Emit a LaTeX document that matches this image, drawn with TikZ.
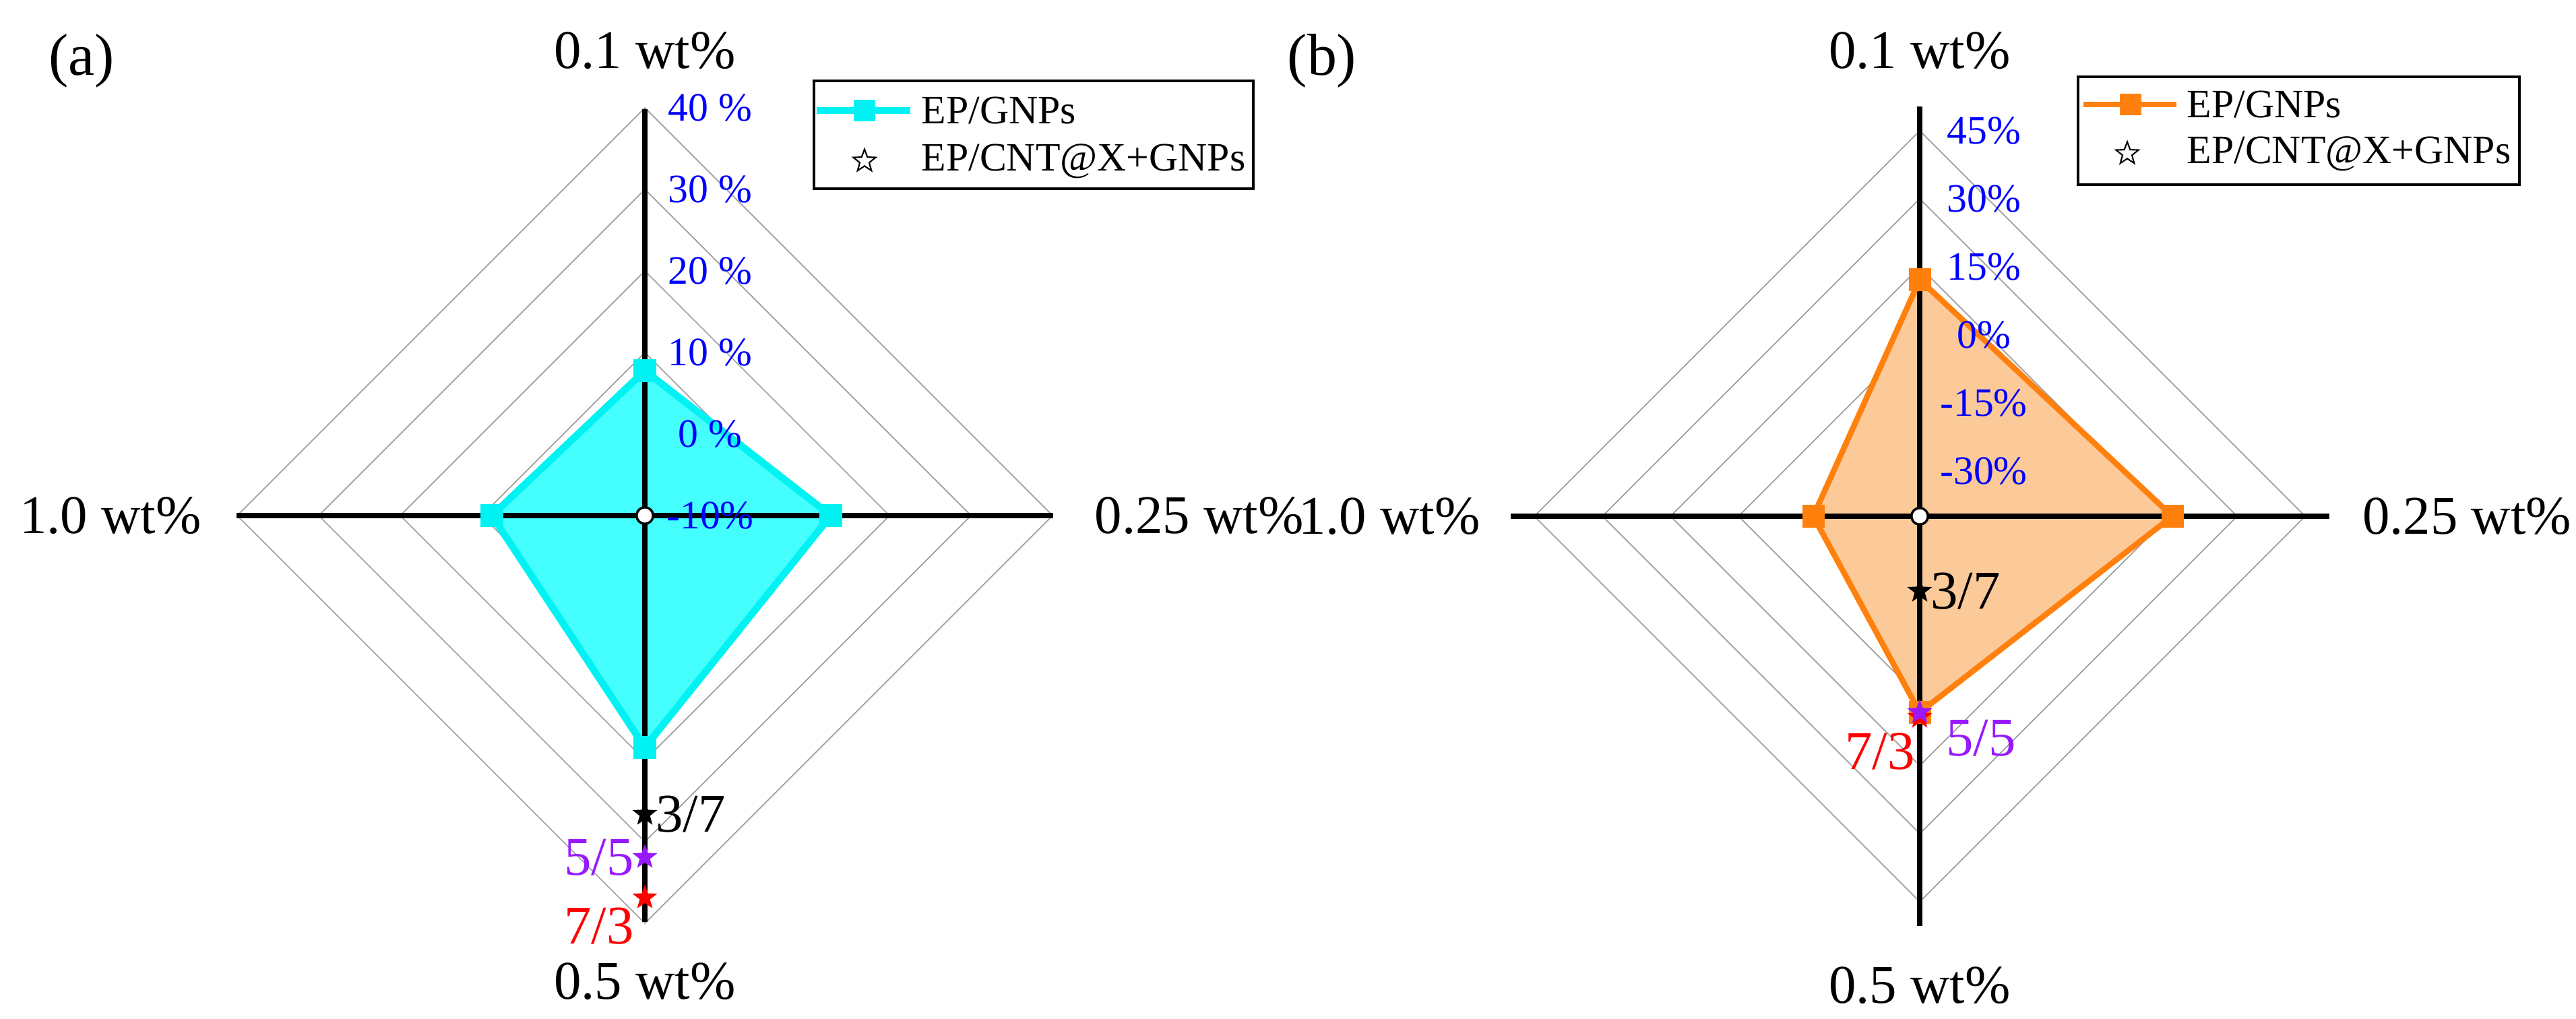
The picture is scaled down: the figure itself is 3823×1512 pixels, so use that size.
\documentclass[tikz,border=0pt]{standalone}
\usepackage{fontspec}
\setmainfont{Liberation Serif}
\usetikzlibrary{shapes.geometric,positioning}
\definecolor{cyanline}{rgb}{0.0,0.95,0.95}
\definecolor{cyanfill}{rgb}{0.27,1.0,1.0}
\definecolor{orangeline}{rgb}{1.0,0.5,0.05}
\definecolor{orangefill}{rgb}{0.99,0.79,0.6}
\definecolor{violet5}{rgb}{0.6,0.1,1.0}
\tikzset{
  ring/.style={draw=gray!75, line width=0.5pt},
  axis/.style={line width=2.3pt},
  tick/.style={text=blue, font=\fontsize{17}{17}\selectfont, inner sep=0},
  wt/.style={font=\fontsize{23}{23}\selectfont, inner sep=0},
  ratio/.style={font=\fontsize{23}{23}\selectfont, inner sep=1pt},
  sq/.style={rectangle, minimum size=9pt, inner sep=0},
  starmark/.style={star, star points=5, star point ratio=2.4, minimum size=11pt, inner sep=0},
  origin/.style={circle, draw, fill=white, line width=1pt, minimum size=7pt, inner sep=0},
  legtext/.style={font=\fontsize{17}{17}\selectfont, anchor=west, inner sep=0},
}
\begin{document}
\begin{tikzpicture}[x=0.01cm, y=-0.01cm]
\useasboundingbox (0,0) rectangle (3823,1512);

% ---- panel (a)
\node[wt, font=\fontsize{25}{25}\selectfont] (tagA) at (121,90) {(a)};
\foreach \k in {1,...,5}
  \draw[ring] (957,{765-121*\k}) -- ({957+121*\k},765) -- (957,{765+121*\k}) -- ({957-121*\k},765) -- cycle;
\node[sq] (a1) at (957,550) {};
\node[sq] (a2) at (1233,765) {};
\node[sq] (a3) at (957,1109) {};
\node[sq] (a4) at (730,765) {};
\fill[cyanfill] (a1.center) -- (a2.center) -- (a3.center) -- (a4.center) -- cycle;
\draw[axis] (957,162) -- (957,1368);
\draw[axis] (351,765) -- (1563,765);
\draw[cyanline, line width=3pt, line join=round] (a1.center) -- (a2.center) -- (a3.center) -- (a4.center) -- cycle;
\foreach \n in {a1,a2,a3,a4} \fill[cyanline] (\n.south west) rectangle (\n.north east);
\node[origin] (oa) at (957,765) {};
\foreach \k/\t in {0/-10\%,1/0 \%,2/10 \%,3/20 \%,4/30 \%,5/40 \%}
  \node[tick] at (1054,{765-121*\k}) {\t};
% stars
\node[starmark, fill=black] (s37a) at (957,1208) {};
\node[starmark, fill=violet5] (s55a) at (957,1272) {};
\node[starmark, fill=red] (s73a) at (957,1332) {};
\node[ratio, right=0pt of s37a] {3/7};
\node[ratio, left=0pt of s55a, text=violet5] {5/5};
\node[ratio, left=0pt of s73a, text=red, yshift=-12pt] {7/3};
% axis labels
\node[wt] (ta1) at (957,75) {0.1 wt\%};
\node[wt, anchor=west] (ta2) at (1624,765) {0.25 wt\%};
\node[wt] (ta3) at (957,1456) {0.5 wt\%};
\node[wt] (ta4) at (164,765) {1.0 wt\%};
% legend
\draw[line width=1pt] (1208,120) rectangle (1860,280);
\draw[cyanline, line width=3pt] (1212,164) -- (1351,164);
\node[sq, fill=cyanline] (la) at (1283,164) {};
\node[legtext] at (1367,164) {EP/GNPs};
\node[starmark, draw, fill=white, line width=0.6pt, minimum size=10pt] (lsa) at (1283,239) {};
\node[legtext] at (1367,239) {EP/CNT@X+GNPs};

% ---- panel (b)
\node[wt, font=\fontsize{25}{25}\selectfont] (tagB) at (1962,90) {(b)};
\foreach \r in {572,471,370,269,168,67}
  \draw[ring] (2849,{766-\r}) -- ({2849+\r},766) -- (2849,{766+\r}) -- ({2849-\r},766) -- cycle;
\node[sq] (b1) at (2849,415) {};
\node[sq] (b2) at (3224,766) {};
\node[sq] (b3) at (2849,1057) {};
\node[sq] (b4) at (2691,766) {};
\fill[orangefill] (b1.center) -- (b2.center) -- (b3.center) -- (b4.center) -- cycle;
\draw[axis] (2849,158) -- (2849,1374);
\draw[axis] (2242,766) -- (3457,766);
\draw[orangeline, line width=2.4pt, line join=round] (b1.center) -- (b2.center) -- (b3.center) -- (b4.center) -- cycle;
\foreach \n in {b1,b2,b3,b4} \fill[orangeline] (\n.south west) rectangle (\n.north east);
\node[origin] (ob) at (2849,766) {};
\foreach \r/\t in {67/-30\%,168/-15\%,269/0\%,370/15\%,471/30\%,572/45\%}
  \node[tick] at (2944,{766-\r}) {\t};
% stars
\node[starmark, fill=black] (s37b) at (2849,877) {};
\node[starmark, fill=red] (s73b) at (2849,1064) {};
\node[starmark, fill=violet5] (s55b) at (2849,1057) {};
\node[ratio, right=0pt of s37b] {3/7};
\node[ratio, text=violet5] at (2940,1095) {5/5};
\node[ratio, text=red] at (2790,1115) {7/3};
% axis labels
\node[wt] (tb1) at (2849,75) {0.1 wt\%};
\node[wt] (tb2) at (3661,766) {0.25 wt\%};
\node[wt] (tb3) at (2849,1462) {0.5 wt\%};
\node[wt] (tb4) at (2062,766) {1.0 wt\%};
% legend
\draw[line width=1pt] (3084,114) rectangle (3739,274);
\draw[orangeline, line width=2.4pt] (3092,155) -- (3230,155);
\node[sq, fill=orangeline] (lb) at (3162,155) {};
\node[legtext] at (3245,155) {EP/GNPs};
\node[starmark, draw, fill=white, line width=0.6pt, minimum size=10pt] (lsb) at (3157,228) {};
\node[legtext] at (3245,228) {EP/CNT@X+GNPs};
\end{tikzpicture}
\end{document}
